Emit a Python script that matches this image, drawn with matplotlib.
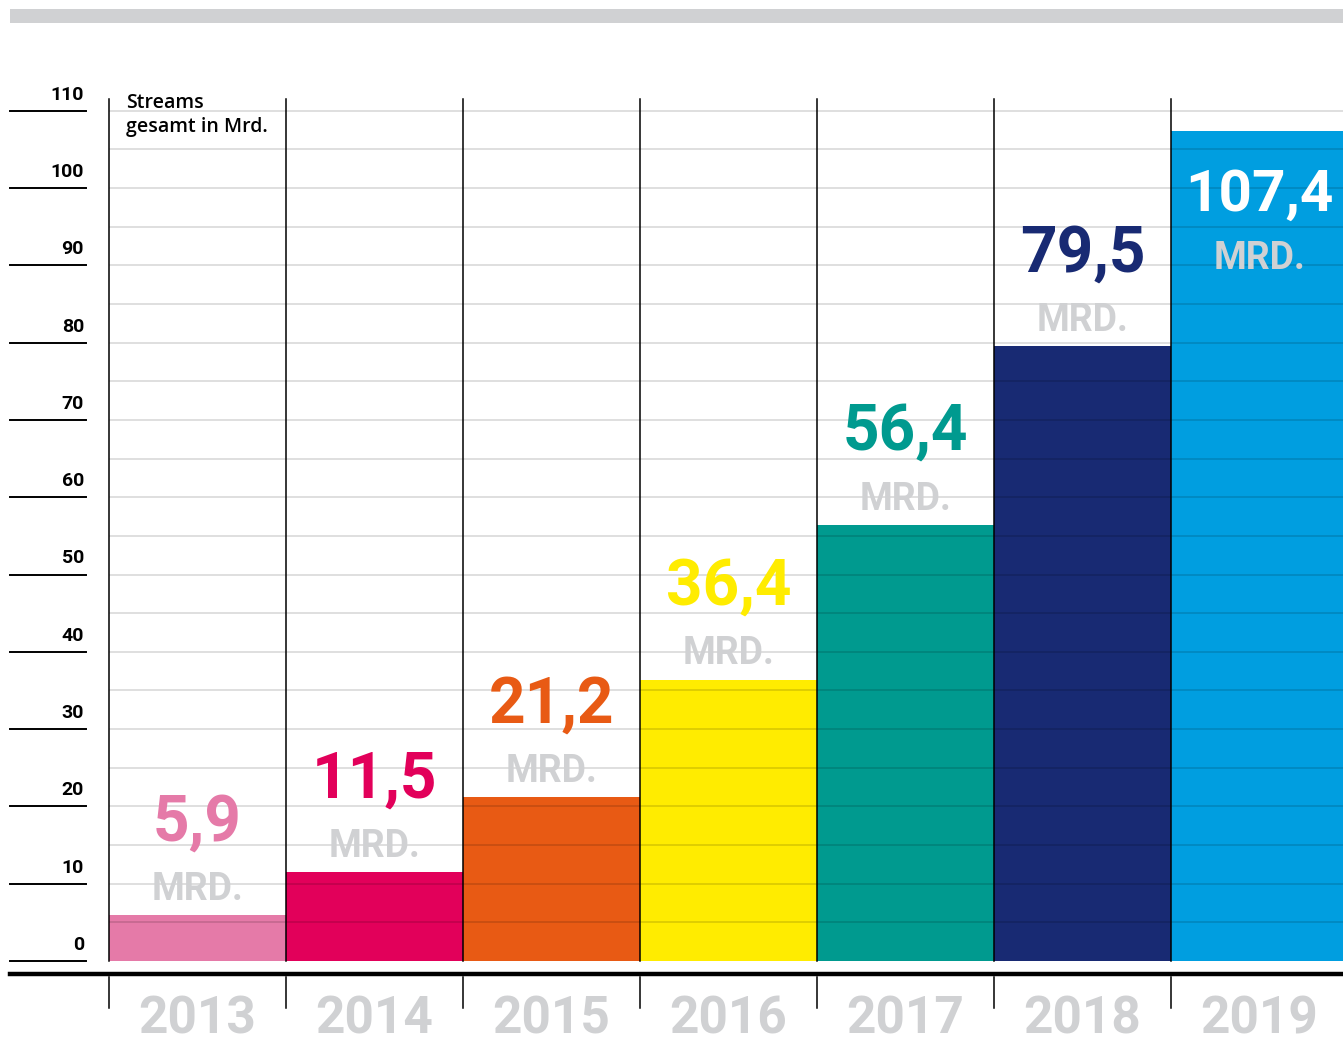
"""
Streams gesamt in Mrd. – Balkendiagramm 2013-2019
"""

import matplotlib
matplotlib.use("Agg")
import matplotlib.pyplot as plt
from matplotlib import transforms
from matplotlib.patches import Rectangle
from matplotlib.lines import Line2D

# ─────────────────────────────────────────────
# DATA
# ─────────────────────────────────────────────

years = ["2013", "2014", "2015", "2016", "2017", "2018", "2019"]
streams = [5.9, 11.5, 21.2, 36.4, 56.4, 79.5, 107.4]
labels = ["5,9", "11,5", "21,2", "36,4", "56,4", "79,5", "107,4"]
colors = ["#e57aa8", "#e2005a", "#e85a14", "#ffec00", "#009a8f", "#182a73", "#009ee0"]
y_ticks = list(range(0, 111, 10))

GREY = "#d0d1d3"
FONT = "Roboto"

# ─────────────────────────────────────────────
# FIGURE
# ─────────────────────────────────────────────

W, H = 1343, 1052
fig = plt.figure(figsize=(W / 100, H / 100), dpi=100)

# axes: bars start at px 109, baseline at px 961, top of verticals at px 99
px_per_unit = 7.73
ax_left, ax_bottom, ax_top = 109, 961, 99
ymax = (ax_bottom - ax_top) / px_per_unit
ax = fig.add_axes([ax_left / W, 1 - ax_bottom / H, 7 * 177 / W, (ax_bottom - ax_top) / H])
ax.set_xlim(-0.5, 6.5)
ax.set_ylim(0, ymax)
ax.axis("off")

x = range(len(years))
ax.bar(x, streams, width=1.0, color=colors, zorder=1)

# horizontal grid over the bars
for v in range(5, 111, 5):
    ax.plot([-0.5, 6.5], [v, v], color="black", alpha=0.15, lw=1.2, zorder=2,
            solid_capstyle="butt")

# vertical separators
for xe in [i - 0.5 for i in range(len(years))]:
    ax.plot([xe, xe], [0, ymax], color="black", lw=1.1, zorder=3, clip_on=False)

# value labels
for i, (v, lab) in enumerate(zip(streams, labels)):
    if v > 100:
        ax.text(i, v - 10.4, lab, ha="center", va="baseline", color="white",
                fontsize=42, fontweight="bold", family=FONT, zorder=4)
        ax.text(i, v - 17.9, "MRD.", ha="center", va="baseline", color=GREY,
                fontsize=27, fontweight="bold", family=FONT, zorder=4)
    else:
        ax.text(i, v + 9.7, lab, ha="center", va="baseline", color=colors[i],
                fontsize=46, fontweight="bold", family=FONT, zorder=4)
        ax.text(i, v + 2.0, "MRD.", ha="center", va="baseline", color=GREY,
                fontsize=27, fontweight="bold", family=FONT, zorder=4)

fig.text(126 / W, 1 - 108 / H, "Streams", ha="left", va="baseline",
         fontsize=14, family="Open Sans", fontweight="semibold", color="black")
fig.text(126 / W, 1 - 132 / H, "gesamt in Mrd.", ha="left", va="baseline",
         fontsize=14, family="Open Sans", fontweight="semibold", color="black")

# left axis: short lines + labels
trans_y = transforms.blended_transform_factory(fig.transFigure, ax.transData)
for t in y_ticks:
    ax.add_line(Line2D([10 / W, 86 / W], [t, t], transform=trans_y, color="black",
                       lw=1.4, clip_on=False))
    ax.text(84 / W, t + 11 / px_per_unit, str(t), transform=trans_y, ha="right",
            va="baseline", fontsize=14, fontweight="bold", family=FONT)

# bottom: thick baseline, tick marks, year labels
fig.add_artist(Line2D([10 / W, 1], [1 - 974 / H, 1 - 974 / H], color="black", lw=3.2))
trans_x = transforms.blended_transform_factory(ax.transData, fig.transFigure)
for i in range(len(years)):
    ax.add_line(Line2D([i - 0.5, i - 0.5], [1 - 977 / H, 1 - 1008 / H],
                       transform=trans_x, color="black", lw=1.1, clip_on=False))
    ax.text(i, 1 - 1033 / H, years[i], transform=trans_x, ha="center", va="baseline",
            fontsize=37, fontweight="bold", family=FONT, color=GREY)

# grey band at the top
fig.add_artist(Rectangle((10 / W, 1 - 23 / H), 1, 14 / H, transform=fig.transFigure,
                         color=GREY, lw=0))

fig.savefig("out.png", dpi=100)
